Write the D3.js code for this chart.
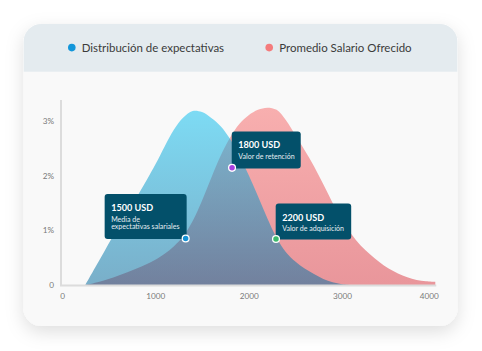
<!DOCTYPE html>
<html>
<head>
<meta charset="utf-8">
<script src="https://cdn.jsdelivr.net/npm/d3@7"></script>
<style>
  html, body { margin: 0; padding: 0; background: #ffffff; }
  svg { display: block; font-family: Lato, "Open Sans", sans-serif; }
</style>
</head>
<body>
<svg id="chart" width="482" height="351"></svg>
<script>
// ---------- data ----------
const seriesNames = ["Distribución de expectativas", "Promedio Salario Ofrecido"];
const expX = [250, 400, 600, 800, 1000, 1100, 1200, 1300, 1400, 1500, 1600, 1700, 1800, 1900, 2000,
              2100, 2200, 2300, 2400, 2500, 2600, 2700, 2800, 2900, 3000, 3100];
const expectativas = [0, 0.45, 1.05, 1.6, 2.2, 2.53, 2.84, 3.06, 3.18, 3.16, 3.05, 2.9, 2.67, 2.36, 2.01,
                      1.62, 1.22, 0.86, 0.6, 0.43, 0.3, 0.2, 0.11, 0.05, 0.015, 0];
const ofrX = [250, 400, 600, 800, 1000, 1100, 1200, 1300, 1400, 1500, 1600, 1700, 1800, 1900, 2000,
              2100, 2200, 2300, 2400, 2500, 2600, 2700, 2800, 2900, 3000, 3100, 3200, 3300, 3400,
              3500, 3600, 3700, 3800, 3900, 4000];
const ofrecido = [0, 0.06, 0.17, 0.3, 0.46, 0.57, 0.71, 0.89, 1.17, 1.54, 1.96, 2.36, 2.69, 2.94, 3.1,
                  3.2, 3.24, 3.2, 3.01, 2.74, 2.46, 2.17, 1.84, 1.5, 1.2, 0.93, 0.72, 0.56, 0.42,
                  0.3, 0.21, 0.14, 0.09, 0.07, 0.06];
const xTicks = [0, 1000, 2000, 3000, 4000];
const xTickLabels = ["0", "1000", "2000", "3000", "4000"];
const yTicks = [0, 1, 2, 3];
const yTickLabels = ["0", "1%", "2%", "3%"];
const markerTitles = ["1500 USD", "1800 USD", "2200 USD"];
const markerLines = [["Media de", "expectativas salariales"], ["Valor de retención"], ["Valor de adquisición"]];
const markerX = [1325, 1822, 2293];
const markerY = [0.85, 2.14, 0.84];
const markerColors = ["#1592d6", "#a63ee0", "#3dbb6c"];

// ---------- layout ----------
const svg = d3.select("#chart");
const defs = svg.append("defs");

const shadow = defs.append("filter").attr("id", "shadow")
  .attr("x", "-20%").attr("y", "-20%").attr("width", "140%").attr("height", "150%");
shadow.append("feDropShadow").attr("dx", 0).attr("dy", 6).attr("stdDeviation", 9)
  .attr("flood-color", "#000").attr("flood-opacity", 0.13);

const card = { x: 23.5, y: 24, w: 434, h: 302, r: 18 };
defs.append("clipPath").attr("id", "cardClip").append("rect")
  .attr("x", card.x).attr("y", card.y).attr("width", card.w).attr("height", card.h).attr("rx", card.r);

svg.append("rect").attr("x", card.x).attr("y", card.y).attr("width", card.w).attr("height", card.h)
  .attr("rx", card.r).attr("fill", "#f9f9f9").attr("filter", "url(#shadow)");
svg.append("rect").attr("x", card.x).attr("y", card.y).attr("width", card.w).attr("height", 47.7)
  .attr("fill", "#e4ebef").attr("clip-path", "url(#cardClip)");

function fitText(sel, targetW) {
  const fs = parseFloat(sel.style("font-size"));
  const w = sel.node().getComputedTextLength();
  sel.style("font-size", (fs * targetW / w).toFixed(2) + "px");
}

// legend
const legendItems = [
  { name: seriesNames[0], cx: 71.8, tx: 81.7, w: 142.5, color: "#1296da" },
  { name: seriesNames[1], cx: 269.2, tx: 279.2, w: 132.5, color: "#f47b7c" }
];
legendItems.forEach(d => {
  svg.append("circle").attr("cx", d.cx).attr("cy", 47.6).attr("r", 3.8).attr("fill", d.color);
  const t = svg.append("text").attr("x", d.tx).attr("y", 52).attr("fill", "#3b3b3b")
    .style("font-size", "13px").text(d.name);
  fitText(t, d.w);
});

// scales
const x = d3.scaleLinear().domain([0, 4000]).range([62, 435.3]);
const y = d3.scaleLinear().domain([0, 3.38]).range([285, 100]);

// gradients
const gBlue = defs.append("linearGradient").attr("id", "gBlue")
  .attr("gradientUnits", "userSpaceOnUse").attr("x1", 0).attr("x2", 0).attr("y1", y(3.2)).attr("y2", y(0));
gBlue.append("stop").attr("offset", 0).attr("stop-color", "#14c2f0");
gBlue.append("stop").attr("offset", 1).attr("stop-color", "#0d6fa0");
const gRed = defs.append("linearGradient").attr("id", "gRed")
  .attr("gradientUnits", "userSpaceOnUse").attr("x1", 0).attr("x2", 0).attr("y1", y(3.25)).attr("y2", y(0));
gRed.append("stop").attr("offset", 0).attr("stop-color", "#f8afaf");
gRed.append("stop").attr("offset", 1).attr("stop-color", "#e9969b");

// axes
const yAxis = d3.axisLeft(y).tickValues(yTicks).tickFormat((d, i) => yTickLabels[i])
  .tickSize(0).tickPadding(7);
const xAxis = d3.axisBottom(x).tickValues(xTicks).tickFormat((d, i) => xTickLabels[i])
  .tickSize(0).tickPadding(7.5);

// areas
const area = (xs, vals) => d3.area()
  .x((d, i) => x(xs[i]))
  .y0(y(0))
  .y1((d, i) => y(Math.max(0, vals[i])))
  .curve(d3.curveCatmullRom.alpha(0.5))(vals);

svg.append("path").attr("d", area(ofrX, ofrecido)).attr("fill", "url(#gRed)");
svg.append("path").attr("d", area(expX, expectativas)).attr("fill", "url(#gBlue)").attr("fill-opacity", 0.54);

const gy = svg.append("g").attr("transform", `translate(${x(0) - 1},0)`).call(yAxis);
gy.select(".domain").attr("d", `M0,${y(3.38)}V${y(0) + 1}`).attr("stroke", "#dcdcdc").attr("stroke-width", 2);
gy.selectAll("text").attr("fill", "#7a7a7a").style("font-size", "8.2px").style("font-family", "Lato, sans-serif");

const gx = svg.append("g").attr("transform", `translate(0,${y(0) + 0.5})`).call(xAxis);
gx.select(".domain").attr("d", `M${x(0) - 2},0H${x(4000) + 1}`).attr("stroke", "#dcdcdc").attr("stroke-width", 2);
gx.selectAll("text").attr("fill", "#7a7a7a").style("font-size", "8.2px").style("font-family", "Lato, sans-serif");
gx.selectAll(".tick").filter(d => d === 4000).select("text").attr("text-anchor", "end").attr("x", 3);

// markers / tooltips
const boxes = [
  { w: 82, h: 45, side: "left" },
  { w: 69, h: 37, side: "right" },
  { w: 75.5, h: 36, side: "right" }
];
const probeT = svg.append("text").style("font-size", "10px").style("font-weight", 700).text(markerTitles[0]);
const titleSize = 10 * 42 / probeT.node().getComputedTextLength();
probeT.remove();
const probeS = svg.append("text").style("font-size", "10px").text(markerLines[2][0]);
const subSize = 10 * 62 / probeS.node().getComputedTextLength();
probeS.remove();

markerTitles.forEach((title, i) => {
  const px = x(markerX[i]), py = y(markerY[i]);
  const b = boxes[i];
  const bx = b.side === "left" ? px + 1 - b.w : px - 0.3;
  const by = py + 0.6 - b.h;
  const g = svg.append("g");
  g.append("rect").attr("x", bx).attr("y", by).attr("width", b.w).attr("height", b.h)
    .attr("rx", 3).attr("fill", "#03506a");
  g.append("text").attr("x", bx + 6.5).attr("y", by + 17).attr("fill", "#ffffff")
    .style("font-size", titleSize.toFixed(2) + "px").style("font-weight", 700).text(title);
  markerLines[i].forEach((line, j) => {
    g.append("text").attr("x", bx + 6.5).attr("y", by + 27.6 + j * 7.8).attr("fill", "#e6eef2")
      .style("font-size", subSize.toFixed(2) + "px").text(line);
  });
  g.append("circle").attr("cx", px).attr("cy", py).attr("r", 3.4)
    .attr("fill", markerColors[i]).attr("stroke", "#ffffff").attr("stroke-width", 1.3);
});
</script>
</body>
</html>
